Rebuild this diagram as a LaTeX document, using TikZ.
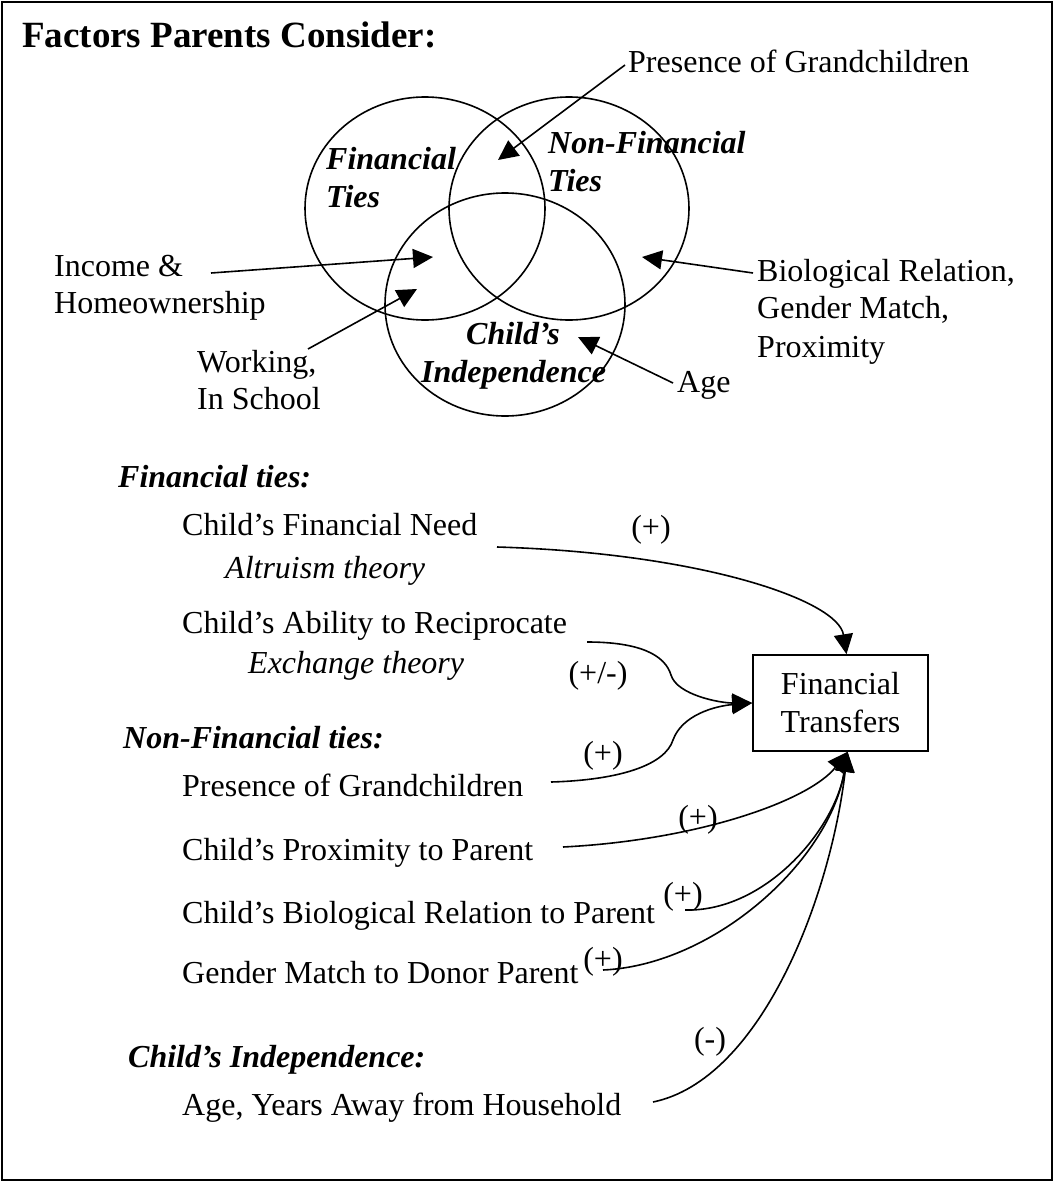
\documentclass[tikz,border=0pt]{standalone}
\usepackage{fontspec}
\setmainfont{Liberation Serif}
\usetikzlibrary{shapes.geometric,arrows.meta}
\begin{document}
\begin{tikzpicture}[x=1pt,y=-1pt,
  txt/.style={anchor=base west,inner sep=0pt,font=\fontsize{32}{38}\selectfont},
  bitxt/.style={txt,font=\fontsize{32}{38}\selectfont\bfseries\itshape},
  itxt/.style={txt,font=\fontsize{32}{38}\selectfont\itshape},
  sign/.style={inner sep=0pt,font=\fontsize{32}{38}\selectfont},
  venn/.style={draw,ellipse,line width=1.6pt,minimum width=240pt,minimum height=223pt,inner sep=0pt},
  con/.style={line width=1.6pt,-{Triangle[length=20pt,width=19pt]}},
  curve/.style={line width=1.6pt,-{Triangle[length=20pt,width=19pt]}}]
\path[use as bounding box] (0,0) rectangle (1055,1181);
\draw[line width=2pt] (1.5,1.5) rectangle (1052,1179.5);

% title
\node[anchor=base west,inner sep=0pt,font=\fontsize{37}{42}\selectfont\bfseries] (title) at (22,47) {Factors Parents Consider:};

% venn diagram
\node[venn] (fin) at (425,208.5) {};
\node[venn] (nonfin) at (569,208.5) {};
\node[venn] (indep) at (505,304.5) {};

\node[bitxt] (finA) at (326,169) {Financial};
\node[bitxt] (finB) at (326,207) {Ties};
\node[bitxt] (nonA) at (548,153) {Non-Financial};
\node[bitxt] (nonB) at (548,191) {Ties};
\node[bitxt] (indA) at (466,344) {Child’s};
\node[bitxt] (indB) at (421,382) {Independence};

% outside labels
\node[txt] (pg) at (628,72) {Presence of Grandchildren};
\node[txt] (incA) at (54,276) {Income \&};
\node[txt] (incB) at (54,313) {Homeownership};
\node[txt] (workA) at (197,372) {Working,};
\node[txt] (workB) at (197,409) {In School};
\node[txt] (age) at (677,392) {Age};
\node[txt] (bioA) at (757,281) {Biological Relation,};
\node[txt] (bioB) at (757,318) {Gender Match,};
\node[txt] (bioC) at (757,357) {Proximity};

% arrow tips inside the venn
\coordinate (tpg) at (498,160);
\coordinate (tinc) at (433,257);
\coordinate (twork) at (417,289);
\coordinate (tbio) at (642,257);
\coordinate (tage) at (578,337);
\coordinate (spg) at (625,65);
\coordinate (sinc) at (211,273);
\coordinate (swork) at (308,349);
\coordinate (sbio) at (753,273);
\coordinate (sage) at (673,383);

\draw[con] (spg) -- (tpg);
\draw[con] (sinc) -- (tinc);
\draw[con] (swork) -- (twork);
\draw[con] (sbio) -- (tbio);
\draw[con] (sage) -- (tage);

% lower list
\node[bitxt] (h1) at (118,487) {Financial ties:};
\node[txt] (f1) at (182,535) {Child’s Financial Need};
\node[itxt] (f1t) at (225,578) {Altruism theory};
\node[txt] (f2) at (182,633) {Child’s Ability to Reciprocate};
\node[itxt] (f2t) at (248,673) {Exchange theory};
\node[bitxt] (h2) at (123,748) {Non-Financial ties:};
\node[txt] (n1) at (182,796) {Presence of Grandchildren};
\node[txt] (n2) at (182,860) {Child’s Proximity to Parent};
\node[txt] (n3) at (182,923) {Child’s Biological Relation to Parent};
\node[txt] (n4) at (182,983) {Gender Match to Donor Parent};
\node[bitxt] (h3) at (128,1067) {Child’s Independence:};
\node[txt] (c1) at (182,1115) {Age, Years Away from Household};

% target box
\node[draw,line width=1.6pt,minimum width=175pt,minimum height=96pt,inner sep=0pt,align=center,
  font=\fontsize{32}{38}\selectfont] (box) at (840.5,703) {Financial\\Transfers};
\coordinate (btop) at ([xshift=6pt]box.north);
\coordinate (bbot) at ([xshift=7pt]box.south);

% curve starts
\coordinate (s1) at (497,547);
\coordinate (s2) at (587,642);
\coordinate (s3) at (551,782);
\coordinate (s4) at (563,847);
\coordinate (s5) at (685,910);
\coordinate (s6) at (603,970);
\coordinate (s7) at (653,1102);

\draw[curve] (s1) .. controls (700,553) and (838,600) .. (btop);
\draw[curve] (s2) .. controls (640,642) and (665,655) .. (671,675) .. controls (677,695) and (720,703) .. (box.west);
\draw[curve] (s3) .. controls (620,780) and (665,765) .. (673,740) .. controls (682,715) and (715,706) .. (box.west);
\draw[curve] (s4) .. controls (700,840) and (810,800) .. (bbot);
\draw[curve] (s5) .. controls (765,912) and (835,830) .. (bbot);
\draw[curve] (s6) .. controls (715,965) and (830,860) .. (bbot);
\draw[curve] (s7) .. controls (760,1080) and (830,900) .. (bbot);

% signs
\node[sign] (p1) at (651,530) {(+)};
\node[sign] (p2) at (598,676) {(+/-)};
\node[sign] (p3) at (603,756) {(+)};
\node[sign] (p4) at (698,820) {(+)};
\node[sign] (p5) at (683,897) {(+)};
\node[sign] (p6) at (603,962) {(+)};
\node[sign] (p7) at (710,1042) {(-)};
\end{tikzpicture}
\end{document}
